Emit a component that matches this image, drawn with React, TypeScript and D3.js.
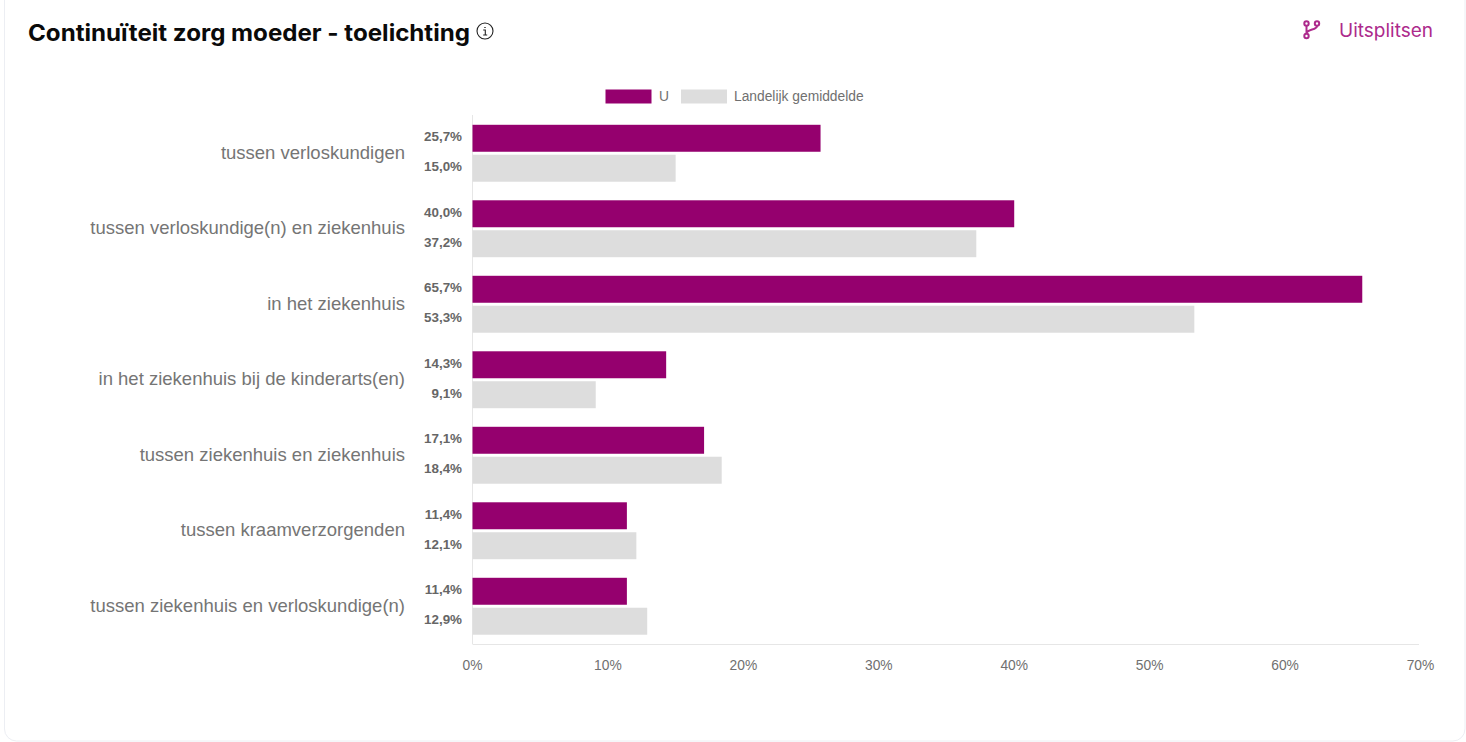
import React from "react";
import * as d3 from "d3";

const categories = [
  "tussen verloskundigen",
  "tussen verloskundige(n) en ziekenhuis",
  "in het ziekenhuis",
  "in het ziekenhuis bij de kinderarts(en)",
  "tussen ziekenhuis en ziekenhuis",
  "tussen kraamverzorgenden",
  "tussen ziekenhuis en verloskundige(n)",
];
const seriesU = [25.7, 40.0, 65.7, 14.3, 17.1, 11.4, 11.4];
const seriesLandelijk = [15.0, 37.2, 53.3, 9.1, 18.4, 12.1, 12.9];
const xTicks = [0, 10, 20, 30, 40, 50, 60, 70];
const seriesNames = ["U", "Landelijk gemiddelde"];

const W = 1466, H = 742;
const PURPLE = "#95006e";
const GREY = "#dddddd";
const ARIAL = "'Liberation Sans', Arial, sans-serif";
const TITLE_FONT = "Inter, 'Noto Sans', sans-serif";

export default function App() {
  const x = d3.scaleLinear().domain([0, 70]).range([472.5, 1420.5]);
  const y = d3.scaleBand<string>().domain(categories).range([115.5, 644]);
  const inner = d3.scaleBand<string>().domain(seriesNames).range([0, y.bandwidth()]).paddingInner(0.1).paddingOuter(0.31);
  const fmt = (v: number) => v.toFixed(1).replace(".", ",") + "%";
  const rows = [seriesU, seriesLandelijk];
  return (
    <svg width={W} height={H} viewBox={`0 0 ${W} ${H}`} style={{ position: "absolute", left: 0, top: 0, background: "#fff" }}>
      <path d="M4.5,0 V729 a12,12 0 0 0 12,12 H1453 a12,12 0 0 0 12,-12 V0" fill="none" stroke="#eceef3" strokeWidth={1} />
      <text x={28} y={41} fontFamily={TITLE_FONT} fontWeight={700} fontSize={23} fill="#0a0a0a" textLength={442} lengthAdjust="spacingAndGlyphs">Continuïteit zorg moeder - toelichting</text>
      <g fill="none" stroke="#222" strokeWidth={1.1}>
        <circle cx={485} cy={31} r={8} />
        <path d="M483.2,30 H485.3 V35 M483.2,35 H487.2" />
        <path d="M485,27 V27.9" strokeWidth={1.4} />
      </g>
      <g fill="none" stroke="#ad2a8c" strokeWidth={2}>
        <circle cx={1306.5} cy={23.5} r={2.2} />
        <circle cx={1317} cy={23.5} r={2.2} />
        <circle cx={1306.5} cy={36} r={2.2} />
        <path d="M1306.5,26 V33.5 M1317,26 C1317,30.5 1307,28.5 1306.5,33.5" />
      </g>
      <text x={1339} y={37} fontFamily={TITLE_FONT} fontSize={18.5} fill="#ad2a8c" textLength={94} lengthAdjust="spacingAndGlyphs">Uitsplitsen</text>

      <rect x={605.5} y={89.5} width={46} height={14} fill={PURPLE} />
      <text x={659} y={101} fontFamily={ARIAL} fontSize={13.8} fill="#707070">{seriesNames[0]}</text>
      <rect x={681} y={89.5} width={46} height={14} fill={GREY} />
      <text x={734} y={101} fontFamily={ARIAL} fontSize={13.8} fill="#707070">{seriesNames[1]}</text>

      <line x1={x(0)} x2={x(0)} y1={115} y2={644} stroke="#e6e6e6" />
      <line x1={x(0)} x2={1419} y1={644.5} y2={644.5} stroke="#e6e6e6" />

      {categories.map((c, i) => (
        <g key={c}>
          <text x={405} y={y(c)! + y.bandwidth() / 2 + 5.5} textAnchor="end" fontFamily={ARIAL} fontSize={18.5} fill="#757575">{c}</text>
          {seriesNames.map((s, k) => (
            <g key={s}>
              <rect x={x(0)} y={y(c)! + inner(s)!} width={x(rows[k][i]) - x(0)} height={inner.bandwidth()} fill={k === 0 ? PURPLE : GREY} />
              <text x={462} y={y(c)! + inner(s)! + inner.bandwidth() / 2 + 3} textAnchor="end" fontFamily={ARIAL} fontSize={13.4} fontWeight={700} fill="#666">{fmt(rows[k][i])}</text>
            </g>
          ))}
        </g>
      ))}
      {xTicks.map((t) => (
        <text key={t} x={x(t)} y={670} textAnchor="middle" fontFamily={ARIAL} fontSize={13.8} fill="#707070">{t}%</text>
      ))}
    </svg>
  );
}
